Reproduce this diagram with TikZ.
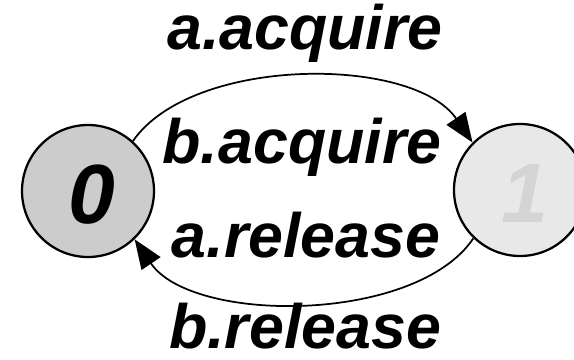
\documentclass[tikz,border=0pt]{standalone}
\usepackage{fontspec}
\setmainfont{Liberation Sans}
\usetikzlibrary{arrows.meta}
\begin{document}
\begin{tikzpicture}[x=0.75pt,y=-0.75pt,
  state/.style={circle,draw=black,line width=1.7pt,minimum size=99pt,inner sep=0pt},
  lbl/.style={anchor=base,inner sep=0pt,font=\fontsize{47}{47}\selectfont\bfseries\itshape},
  num/.style={anchor=base,inner sep=0pt,font=\fontsize{63}{63}\selectfont\bfseries\itshape},
  trans/.style={line width=1.3pt,-{Triangle[length=22pt,width=17pt]}}]
  \useasboundingbox (0,0) rectangle (574,360);
  % states
  \node[state,fill={rgb,255:red,204;green,204;blue,204}] (s0) at (88,191) {};
  \node[state,fill={rgb,255:red,232;green,232;blue,232}] (s1) at (520,190) {};
  \node[num] (t0) at (92,223) {0};
  \node[num,text={rgb,255:red,212;green,212;blue,212}] (t1) at (525,222) {1};
  % transitions
  \draw[trans] (s0.48.6) .. controls (192,55.5) and (413,55.5) .. (s1.135.6);
  \draw[trans] (s1.226.8) .. controls (416,324) and (192,324) .. (s0.-46.2);
  % action labels
  \node[lbl] (l1) at (305,50) {a.acquire};
  \node[lbl] (l2) at (302,163) {b.acquire};
  \node[lbl] (l3) at (306,257) {a.release};
  \node[lbl] (l4) at (305,348) {b.release};
\end{tikzpicture}
\end{document}
